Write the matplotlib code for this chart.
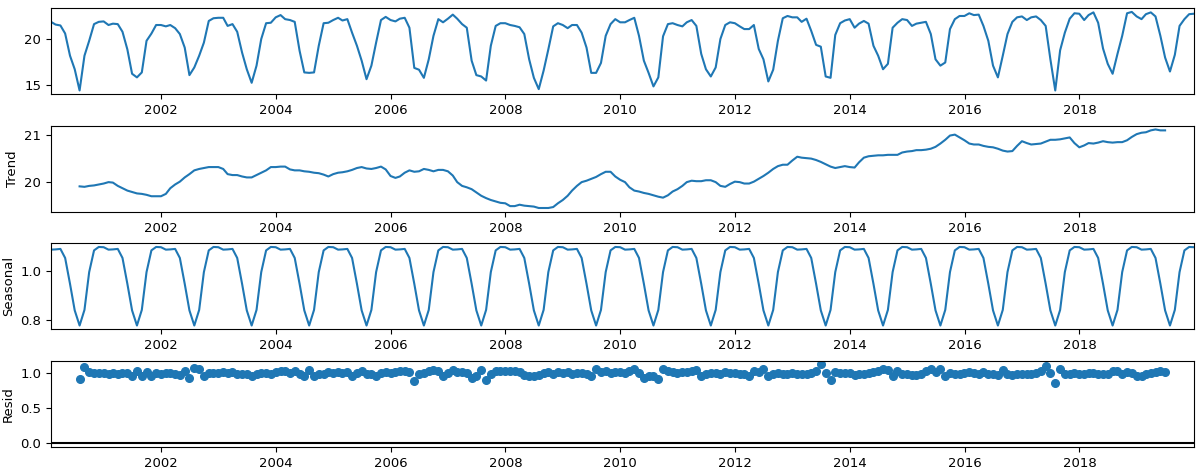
import numpy as np
import pandas as pd
import matplotlib
matplotlib.use('Agg')
import matplotlib.pyplot as plt
import matplotlib.dates as mdates
from matplotlib.ticker import MultipleLocator

plt.rcParams['font.size'] = 9.5

# monthly series, month-end dates Jan 2000 .. Dec 2019
dates = pd.date_range('2000-01-31', periods=240, freq='ME')

observed = [
    21.95, 21.65, 21.55, 20.66, 18.2, 16.7, 14.35, 18.2, 19.85, 21.7, 21.95, 22.0,
    21.6, 21.75, 21.7, 20.85, 18.9, 16.2, 15.8, 16.35, 19.85, 20.65, 21.6, 21.6,
    21.45, 21.6, 21.25, 20.6, 19.1, 16.05, 16.9, 18.2, 19.65, 22.05, 22.35, 22.4,
    22.4, 21.5, 21.7, 20.85, 18.55, 16.7, 15.2, 17.1, 20.05, 21.8, 21.85, 22.45,
    22.7, 22.25, 22.15, 21.95, 18.75, 16.35, 16.3, 16.35, 19.3, 21.8, 21.85, 22.15,
    22.4, 22.1, 22.25, 20.75, 19.3, 17.65, 15.6, 17.1, 19.65, 22.15, 22.5, 22.15,
    22.0, 22.3, 22.4, 21.3, 16.85, 16.65, 15.75, 17.8, 20.4, 22.25, 21.9, 22.3,
    22.75, 22.3, 21.7, 21.3, 17.65, 16.05, 15.9, 15.45, 19.3, 21.5, 21.8, 21.8,
    21.6, 21.5, 21.35, 20.6, 17.8, 15.75, 14.5, 16.55, 18.9, 21.45, 21.8, 21.6,
    21.25, 21.6, 21.6, 20.75, 19.1, 16.3, 16.3, 17.4, 20.4, 21.7, 22.25, 21.9,
    21.9, 22.15, 22.4, 20.4, 17.65, 16.3, 14.8, 15.8, 20.35, 21.7, 21.8, 21.6,
    21.45, 21.9, 22.15, 21.5, 18.4, 16.7, 15.9, 16.9, 20.05, 21.6, 21.9, 21.8,
    21.45, 21.15, 21.15, 21.6, 18.95, 17.8, 15.35, 16.65, 19.85, 22.35, 22.6, 22.45,
    22.45, 21.95, 22.3, 20.95, 19.4, 19.2, 15.9, 15.75, 20.5, 21.8, 22.1, 22.25,
    21.3, 21.75, 22.05, 21.75, 19.3, 18.2, 16.7, 17.3, 21.3, 21.85, 22.25, 22.15,
    21.5, 21.75, 21.85, 21.95, 20.6, 17.8, 17.1, 17.45, 21.15, 22.25, 22.6, 22.6,
    22.9, 22.7, 22.75, 21.5, 19.85, 17.1, 15.8, 18.2, 20.6, 21.95, 22.45, 22.55,
    22.15, 22.45, 22.55, 22.15, 21.5, 17.8, 14.35, 18.8, 20.75, 22.3, 22.9, 22.85,
    22.15, 22.7, 23.0, 21.85, 19.0, 17.3, 16.2, 18.4, 20.4, 22.9, 23.05, 22.55,
    22.25, 22.8, 23.0, 22.55, 20.4, 18.0, 16.45, 18.3, 21.5, 22.25, 22.8, 22.85,
]

# centred 2x12 moving average: no values for the first and last 6 months
trend = [
    19.90, 19.89, 19.91, 19.92, 19.94, 19.96, 19.99, 19.98, 19.91,
    19.86, 19.81, 19.78, 19.75, 19.74, 19.72, 19.69, 19.69, 19.69,
    19.74, 19.86, 19.94, 20.00, 20.09, 20.16, 20.24, 20.27, 20.29, 20.31, 20.31, 20.31,
    20.27, 20.16, 20.14, 20.14, 20.11, 20.09, 20.09, 20.14, 20.19, 20.24, 20.31, 20.31,
    20.32, 20.32, 20.26, 20.24, 20.24, 20.22, 20.21, 20.19, 20.18, 20.15, 20.11, 20.16,
    20.19, 20.20, 20.22, 20.25, 20.29, 20.31, 20.28, 20.27, 20.29, 20.32, 20.26, 20.12,
    20.08, 20.11, 20.19, 20.24, 20.21, 20.22, 20.27, 20.25, 20.22, 20.25, 20.25, 20.22,
    20.13, 19.99, 19.91, 19.88, 19.84, 19.77, 19.70, 19.65, 19.61, 19.58, 19.55, 19.54,
    19.48, 19.48, 19.51, 19.49, 19.48, 19.47, 19.44, 19.44, 19.44, 19.46, 19.54, 19.61,
    19.70, 19.81, 19.91, 19.99, 20.02, 20.06, 20.10, 20.16, 20.21, 20.21, 20.11, 20.04,
    19.99, 19.88, 19.81, 19.79, 19.76, 19.74, 19.71, 19.68, 19.66, 19.71, 19.79, 19.84,
    19.91, 19.99, 20.02, 20.01, 20.01, 20.03, 20.03, 19.99, 19.91, 19.89, 19.95, 20.00,
    19.99, 19.96, 19.96, 20.00, 20.06, 20.12, 20.19, 20.27, 20.33, 20.36, 20.36, 20.45,
    20.53, 20.51, 20.50, 20.49, 20.46, 20.42, 20.37, 20.32, 20.29, 20.31, 20.33, 20.31,
    20.30, 20.41, 20.51, 20.54, 20.55, 20.56, 20.56, 20.57, 20.57, 20.57, 20.62, 20.64,
    20.65, 20.67, 20.67, 20.68, 20.70, 20.74, 20.81, 20.89, 20.98, 21.00, 20.94, 20.88,
    20.81, 20.79, 20.79, 20.76, 20.74, 20.73, 20.70, 20.66, 20.64, 20.65, 20.76, 20.86,
    20.82, 20.79, 20.80, 20.81, 20.85, 20.89, 20.89, 20.90, 20.92, 20.94, 20.82, 20.73,
    20.77, 20.82, 20.81, 20.83, 20.86, 20.84, 20.83, 20.84, 20.84, 20.88, 20.95, 21.01,
    21.04, 21.05, 21.09, 21.11, 21.09, 21.09,
]

# one seasonal factor per calendar month (Jan..Dec), repeated every year
season_month = [1.089, 1.090, 1.092, 1.055, 0.949, 0.840,
                0.778, 0.842, 0.997, 1.086, 1.100, 1.099]

resid = [
    0.92, 1.08, 1.01, 1.00, 1.00, 1.00,
    0.99, 1.00, 0.99, 1.00, 1.00, 0.96, 1.03, 0.96, 1.01, 0.96, 1.00, 0.99,
    1.00, 1.00, 0.99, 0.97, 1.03, 0.93, 1.07, 1.06, 0.96, 1.00, 1.00, 1.00,
    1.01, 1.00, 1.01, 0.99, 0.98, 0.99, 0.96, 0.99, 1.00, 1.00, 0.99, 1.01,
    1.03, 1.02, 1.00, 1.03, 0.99, 0.95, 1.04, 0.95, 0.99, 0.99, 1.01, 1.00,
    1.01, 1.00, 1.01, 0.96, 1.00, 1.03, 0.99, 0.99, 0.95, 1.00, 1.01, 1.00,
    1.01, 1.02, 1.02, 1.01, 0.88, 0.98, 1.00, 1.03, 1.04, 1.02, 0.96, 1.00,
    1.04, 1.01, 1.01, 1.00, 0.93, 0.96, 1.04, 0.90, 0.99, 1.02, 1.02, 1.03,
    1.02, 1.02, 1.01, 0.97, 0.96, 0.96, 0.97, 1.00, 1.01, 0.99, 1.01, 1.00,
    1.01, 0.99, 1.00, 1.00, 0.99, 0.96, 1.05, 1.01, 1.02, 1.00, 1.01, 1.01,
    1.00, 1.02, 1.05, 1.00, 0.93, 0.96, 0.95, 0.92, 1.05, 1.02, 1.01, 1.00,
    1.01, 1.01, 1.02, 1.04, 0.96, 0.99, 1.00, 1.00, 0.99, 1.01, 1.00, 1.00,
    0.99, 0.98, 0.96, 1.03, 1.01, 1.06, 0.95, 0.99, 1.00, 0.99, 0.98, 1.00,
    0.99, 0.99, 0.98, 1.00, 1.02, 1.12, 1.00, 0.90, 1.01, 1.00, 1.00, 1.00,
    0.97, 0.98, 0.99, 1.00, 1.01, 1.02, 1.06, 1.04, 0.96, 1.03, 0.98, 0.98,
    0.97, 0.97, 0.98, 1.03, 1.06, 1.01, 1.06, 0.96, 1.00, 0.99, 0.98, 1.00,
    1.01, 1.00, 0.99, 1.01, 0.99, 0.98, 0.97, 1.04, 0.98, 0.97, 0.98, 0.98,
    0.98, 0.99, 1.00, 1.03, 1.10, 1.00, 0.86, 1.06, 0.98, 0.98, 1.00, 0.99,
    0.98, 1.00, 1.00, 0.99, 0.98, 0.98, 1.03, 1.03, 0.98, 1.01, 1.00, 0.96,
    0.95, 0.98, 1.00, 1.01, 1.02, 1.01,
]

seasonal = np.tile(season_month, 20)
inner = dates[6:234]

fig, axes = plt.subplots(4, 1, figsize=(11.97, 4.70), dpi=100)
fig.subplots_adjust(left=0.0426, right=0.9975, top=0.983, bottom=0.049, hspace=0.36)

axes[0].plot(dates, observed)
axes[1].plot(inner, trend)
axes[1].set_ylabel('Trend')
axes[2].plot(dates, seasonal)
axes[2].set_ylabel('Seasonal')
axes[3].plot(inner, resid, marker='o', linestyle='none', markersize=5.5)
axes[3].axhline(0, color='#000000', zorder=-3)
axes[3].set_ylabel('Resid')

axes[0].yaxis.set_major_locator(MultipleLocator(5))
axes[1].yaxis.set_major_locator(MultipleLocator(1))
axes[2].yaxis.set_major_locator(MultipleLocator(0.2))
axes[3].yaxis.set_major_locator(MultipleLocator(0.5))

for ax in axes:
    ax.set_xlim(dates[0], dates[-1])
    ax.xaxis.set_major_locator(mdates.YearLocator(2))
    ax.xaxis.set_major_formatter(mdates.DateFormatter('%Y'))

plt.savefig('out.png')
plt.close()
